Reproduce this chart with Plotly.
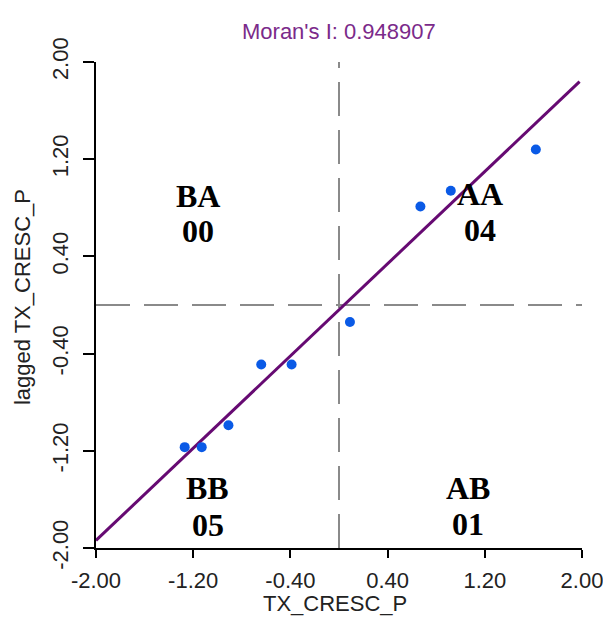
import plotly.graph_objects as go

# ---- data ----
x_vals = [1.62, 0.92, 0.67, 0.09, -0.64, -0.39, -0.91, -1.27, -1.13]
y_vals = [1.28, 0.94, 0.81, -0.14, -0.49, -0.49, -0.99, -1.17, -1.17]
moran_i = 0.948907
intercept = -0.04
line_x = [-2.0, 1.98]
tick_vals = [-2.0, -1.2, -0.4, 0.4, 1.2, 2.0]
tick_text = ["%.2f" % v for v in tick_vals]
quad_names = ["BA", "AA", "BB", "AB"]
quad_counts = ["00", "04", "05", "01"]
quad_x = [-1.16, 1.16, -1.08, 1.06]
quad_name_y = [0.90, 0.91, -1.51, -1.51]
quad_count_y = [0.61, 0.62, -1.81, -1.80]

line_y = [moran_i * v + intercept for v in line_x]

FS = 22
SANS = "Liberation Sans"
TXT = "#222222"

fig = go.Figure()
fig.add_trace(go.Scatter(x=line_x, y=line_y, mode="lines",
                         line=dict(color="#660a72", width=3), hoverinfo="skip"))
fig.add_trace(go.Scatter(x=x_vals, y=y_vals, mode="markers",
                         marker=dict(color="#0a5ae6", size=10)))

dash_style = dict(color="#8a8a8a", width=2, dash="34px,14px")
fig.add_shape(type="line", xref="x", yref="y", x0=0, x1=0, y0=-2, y1=2,
              line=dash_style, layer="below")
fig.add_shape(type="line", xref="x", yref="y", x0=-2, x1=2.18, y0=0, y1=0,
              line=dash_style, layer="below")

for name, cnt, qx, ny, cy in zip(quad_names, quad_counts, quad_x, quad_name_y, quad_count_y):
    for txt, yy in ((name, ny), (cnt, cy)):
        fig.add_annotation(x=qx, y=yy, xref="x", yref="y", text="<b>%s</b>" % txt,
                           showarrow=False,
                           font=dict(family="Liberation Serif", size=32, color="black"))

# title
fig.add_annotation(x=0.5, y=1 + (62 - 32) / 486, xref="paper", yref="paper",
                   yanchor="middle", text="Moran's I: 0.948907", showarrow=False,
                   font=dict(family=SANS, size=FS, color="#7b2a8a"))
# x title
fig.add_annotation(x=-0.03, y=-(603 - 548) / 486, xref="x", yref="paper",
                   yanchor="middle", text="TX_CRESC_P", showarrow=False,
                   font=dict(family=SANS, size=FS, color=TXT))
# y title
fig.add_annotation(x=-(96 - 22) / 486, y=0.065, xref="paper", yref="y",
                   xanchor="center", yanchor="middle", textangle=-90,
                   text="lagged TX_CRESC_P", showarrow=False,
                   font=dict(family=SANS, size=FS, color=TXT))

axis_common = dict(range=[-2, 2], showgrid=False, zeroline=False, showline=True,
                   linecolor="black", linewidth=2, ticks="outside", tickwidth=2,
                   tickcolor="black", tickvals=tick_vals, ticktext=tick_text,
                   automargin=False, ticklabeloverflow="allow",
                   tickfont=dict(family=SANS, size=FS, color=TXT))

fig.update_layout(
    width=603, height=630,
    margin=dict(l=96, r=21, t=62, b=82),
    plot_bgcolor="white", paper_bgcolor="white",
    showlegend=False,
    xaxis=dict(axis_common, ticklen=8, ticklabelstandoff=4),
    yaxis=dict(axis_common, ticklen=11, tickangle=-90, ticklabelstandoff=6),
)

fig.write_html("out.html")
